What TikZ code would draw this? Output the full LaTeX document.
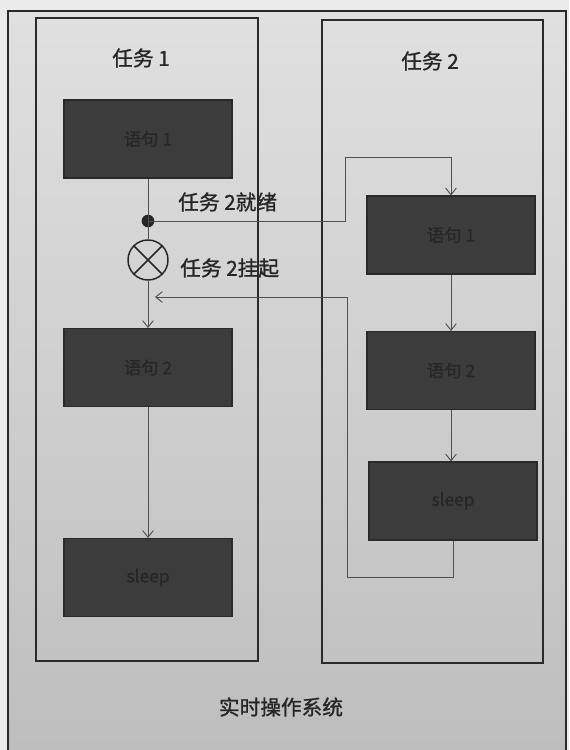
\documentclass[tikz,border=0pt]{standalone}
\usepackage{fontspec}
\newfontfamily\cjk[FakeBold=1.2]{Noto Sans CJK SC}
\newfontfamily\cjkin[FakeBold=0.8]{Noto Sans CJK SC}
\usetikzlibrary{arrows.meta}
\definecolor{stmtfill}{HTML}{3C3C3C}
\definecolor{stmttext}{HTML}{262626}
\definecolor{linecol}{HTML}{505050}
\definecolor{framecol}{HTML}{2A2A2A}
\definecolor{bgtop}{HTML}{E0E0E0}
\definecolor{bgbot}{HTML}{BEBEBE}
\begin{document}
\begin{tikzpicture}[x=0.75pt,y=-0.75pt,
  stmt/.style={draw=framecol, fill=stmtfill, line width=0.8pt, inner sep=0pt,
    minimum width=126pt, minimum height=58.5pt,
    font=\cjkin\fontsize{13}{15}\selectfont, text=stmttext},
  taskbox/.style={draw=framecol, line width=0.9pt, inner sep=0pt},
  lbl/.style={font=\cjk\fontsize{15.5}{18}\selectfont, text=black!85, inner sep=0pt},
  conn/.style={draw=linecol, line width=0.7pt},
  arr/.style={conn, -{Straight Barb[length=5pt,width=8pt]}}
]
\useasboundingbox (0,0) rectangle (569,750);
% background
\fill[color=white!92!black] (0,0) rectangle (569,750);
\shade[top color=bgtop, bottom color=bgbot] (8,11) rectangle (566,750);
\draw[framecol, line width=0.9pt] (8,750) -- (8,11) -- (566,11) -- (566,750);

% task boxes
\node[taskbox, minimum width=166.5pt, minimum height=482.25pt] (t1) at (147,339.5) {};
\node[taskbox, minimum width=165.75pt, minimum height=482.25pt] (t2) at (432.5,341.5) {};

% titles
\node[lbl] (t1lbl) at (141,58) {任务 1};
\node[lbl] (t2lbl) at (430,61) {任务 2};
\node[lbl] (os) at (281,707) {实时操作系统};

% task 1 statements
\node[stmt] (a1) at (148,139) {语句 1};
\node[stmt] (a2) at (148,367.5) {语句 2};
\node[stmt] (a3) at (148,577.5) {sleep};

% task 2 statements
\node[stmt] (b1) at (451,235) {语句 1};
\node[stmt] (b2) at (451,370.5) {语句 2};
\node[stmt] (b3) at (453,501) {sleep};

% dot and suspend symbol
\node[circle, fill=black!85, inner sep=0pt, minimum size=9.5pt] (dot) at (148,221) {};
\node[circle, draw=black!85, line width=1.1pt, inner sep=0pt, minimum size=30pt] (sus) at (148,260) {};
\draw[black!85, line width=1.1pt] (sus.north west) -- (sus.south east) (sus.north east) -- (sus.south west);

\node[lbl, anchor=west] (ready) at (178,202) {任务 2就绪};
\node[lbl, anchor=west] (susp) at (180,268) {任务 2挂起};

% task 1 flow
\draw[conn] (a1.south) -- (dot.center);
\draw[conn] (dot.center) -- (sus.north);
\draw[arr] (sus.south) -- (a2.north);
\draw[arr] (a2.south) -- (a3.north);

% switch to task 2
\coordinate (p1) at (345,157);
\draw[arr] (dot.center) -| (p1) -| (b1.north);
\draw[arr] (b1.south) -- (b2.north -| b1.south);
\draw[arr] (b2.south) -- (b3.north -| b2.south);

% return to task 1
\coordinate (p2) at (347,577);
\coordinate (r1) at (155,297);
\draw[arr] (b3.south) |- (p2) |- (r1);
\end{tikzpicture}
\end{document}
